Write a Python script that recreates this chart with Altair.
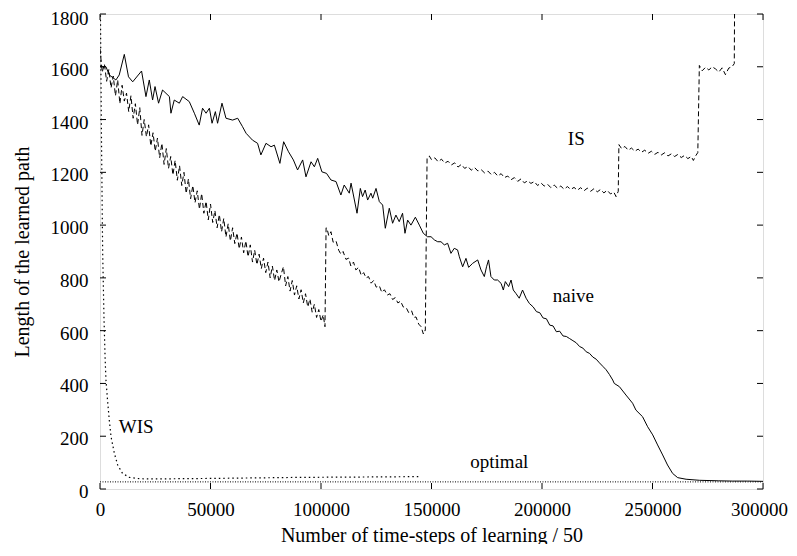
import altair as alt
import pandas as pd

# ---------------- data ----------------
naive_x = [0, 2700, 4200, 7200, 8700, 11000, 12900, 14800, 18800, 20800, 22300, 23800, 24900, 26500, 28300,
           31400, 32100, 33600, 35900, 37400, 40400, 42700, 44900, 46400, 48000, 49500, 50700, 52200, 53200,
           55200, 57000, 60000, 62300, 64500, 66100, 69000, 71300, 72800, 75100, 77400, 78900, 81400, 83100,
           85300, 87500, 89400, 91700, 93200, 95500, 97000, 98500, 100400, 102500, 104500, 106800, 109000,
           110500, 112800, 113600, 116300, 117800, 118800, 120000, 121100, 122600, 123400, 124900, 126400,
           127900, 129100, 130900, 132400, 133900, 135400, 136900, 138000, 139200, 140700, 142700, 144500,
           146300, 148200, 149800, 151300, 152800, 154300, 155800, 157300, 158800, 160300, 161800, 162600,
           164100, 165600, 166800, 168600, 170900, 172400, 173900, 174900, 175800, 176900, 178400, 179900,
           181500, 182500, 183400, 184900, 186000, 187000, 188200, 189700, 191200, 192800, 194300, 196000,
           197500, 199000, 200500, 202000, 203500, 205000, 206500, 208000, 209500, 211000, 212500, 214000,
           215500, 217000, 218500, 220000, 221500, 223000, 224500, 226000, 227500, 229000, 230500, 232000,
           232700, 235000, 238000, 241000, 242500, 245500, 247800, 250100, 252300, 254600, 256800, 259100,
           261400, 265200, 271200, 280000, 286300, 293000, 300000]
naive_y = [1600, 1600, 1569, 1550, 1569, 1647, 1562, 1543, 1584, 1487, 1550, 1474, 1525, 1462, 1512,
           1487, 1424, 1474, 1462, 1487, 1468, 1424, 1379, 1443, 1424, 1443, 1386, 1430, 1386,
           1462, 1405, 1398, 1405, 1373, 1348, 1322, 1310, 1266, 1310, 1297, 1303, 1234, 1316,
           1278, 1247, 1209, 1247, 1183, 1240, 1221, 1253, 1202, 1196, 1171, 1165, 1114,
           1152, 1121, 1159, 1045, 1139, 1108, 1133, 1095, 1121, 1102, 1139, 1089,
           1076, 988, 1064, 1007, 1038, 1013, 1045, 969, 1019, 1000, 1030, 1000,
           969, 956, 956, 944, 937, 937, 925, 931, 893, 912, 906, 880,
           842, 874, 840, 855, 868, 830, 805, 842, 868, 805, 792, 792,
           779, 754, 786, 767, 792, 754, 741, 723, 754, 723, 703, 690,
           672, 668, 648, 645, 621, 618, 596, 598, 580, 578, 570, 562,
           554, 540, 534, 520, 514, 500, 492, 478, 465, 452, 434, 413,
           400, 388, 356, 325, 299, 274, 236, 205, 167, 129, 91, 59,
           43, 37, 33, 31, 30, 30, 29]

is_x = [0, 1000, 2000, 3000, 4000, 5000, 6000, 7000, 8000, 9000, 10000, 11000, 12000, 13000, 14000,
        15000, 16000, 17000, 18000, 19000, 20000, 21000, 22000, 23000, 24000, 25000, 26000, 27000, 28000,
        29000, 30000, 31000, 32000, 33000, 34000, 35000, 36000, 37000, 38000, 39000, 40000, 41000, 42000,
        43000, 44000, 45000, 46000, 47000, 48000, 49000, 50000, 51000, 52000, 53000, 54000, 55000, 56000,
        57000, 58000, 59000, 60000, 61000, 62000, 63000, 64000, 65000, 66000, 67000, 68000, 69000, 70000,
        71000, 72000, 73000, 74000, 75000, 76000, 77000, 78000, 79000, 80000, 81000, 82000, 83000, 84000,
        85000, 86000, 87000, 88000, 89000, 90000, 91000, 92000, 93000, 94000, 95000, 96000, 97000, 98000,
        99000, 100000, 101000, 101800,
        102300, 102700, 103500, 104500, 105500, 106800, 108000, 109000, 110000, 111300, 112500, 113500,
        114700, 115800, 117000, 118200, 119300, 120400, 121500, 122700, 123800, 125000, 126400, 127500,
        128700, 130000, 131200, 132400, 133600, 134800, 136000, 137200, 138500, 139700, 141000, 142000,
        143000, 144200, 145300, 146300, 146600, 147200, 147600, 148000,
        149000, 150000, 151500, 153000, 154500, 156000, 157500, 159000, 160500, 162000, 163500, 165000,
        166500, 168000, 169500, 171000, 172500, 174000, 175500, 177000, 178500, 180000, 181500, 183000,
        184500, 186000, 187500, 189000, 190500, 192000, 193500, 195000, 196500, 198000, 199500, 201000,
        202500, 204000, 205500, 207000, 208500, 210000, 211500, 213000, 214500, 216000, 217500, 219000,
        220500, 222000, 223500, 225000, 226500, 228000, 229500, 231000, 232500, 233500, 234500,
        234800, 236000, 237500, 239000, 240500, 242000, 243500, 245000, 246500, 248000, 249500, 251000,
        252500, 254000, 255500, 257000, 258500, 260000, 261500, 263000, 264500, 266000, 267500, 268500,
        269500, 270500, 271200, 272500, 274000, 275500, 277000, 278500, 280000, 281500, 283000, 284500,
        286000, 287000, 287400]
is_y = [1668, 1580, 1610, 1545, 1590, 1520, 1565, 1490, 1550, 1460, 1530, 1470, 1500, 1430, 1490,
        1405, 1460, 1380, 1445, 1340, 1400, 1335, 1380, 1300, 1350, 1280, 1330, 1255, 1310,
        1230, 1290, 1215, 1260, 1190, 1245, 1170, 1225, 1150, 1200, 1120, 1175, 1100, 1150,
        1085, 1130, 1060, 1120, 1045, 1090, 1020, 1080, 1010, 1055, 990, 1040, 975, 1025,
        955, 1005, 940, 990, 930, 970, 910, 955, 895, 940, 880, 925, 860, 905,
        850, 890, 835, 875, 820, 860, 800, 845, 790, 830, 785, 815, 842, 770,
        805, 750, 790, 735, 770, 720, 755, 705, 740, 690, 720, 670, 700, 650,
        680, 635, 660, 615,
        990, 988, 960, 975, 935, 940, 905, 890, 900, 870, 875, 845,
        860, 830, 840, 810, 820, 800, 805, 780, 790, 765, 770, 745,
        755, 735, 740, 718, 725, 705, 712, 690, 688, 668, 675, 650,
        652, 625, 615, 588, 600, 600, 930, 1255,
        1262, 1248, 1255, 1240, 1250, 1235, 1242, 1228, 1236, 1220, 1230, 1215,
        1222, 1208, 1218, 1205, 1210, 1198, 1205, 1192, 1200, 1186, 1195, 1180,
        1186, 1172, 1180, 1166, 1175, 1160, 1168, 1158, 1165, 1150, 1160, 1148,
        1155, 1142, 1152, 1140, 1148, 1136, 1146, 1135, 1143, 1132, 1142, 1130,
        1140, 1128, 1138, 1126, 1135, 1122, 1132, 1118, 1125, 1108, 1128,
        1305, 1290, 1298, 1284, 1292, 1280, 1288, 1276, 1284, 1272, 1280, 1268,
        1276, 1266, 1274, 1262, 1270, 1260, 1268, 1256, 1264, 1252, 1260, 1245,
        1262, 1275, 1605, 1585, 1598, 1588, 1600, 1592, 1580, 1596, 1570, 1595,
        1600, 1612, 2200]

wis_x = [0, 300, 700, 1200, 1800, 2300, 2700, 3400, 4200, 5000, 6500, 8000, 10200, 13300, 17800,
         25000, 35000, 50000, 70000, 90000, 110000, 130000, 145200]
wis_y = [2000, 1700, 1300, 900, 650, 500, 413, 337, 261, 198, 135, 91, 59, 44, 39,
         38, 39, 40, 42, 44, 45, 46, 47]

optimal_x = [0, 300000]
optimal_y = [27, 27]

label_text = ["IS", "naive", "WIS", "optimal"]
label_x = [215500, 214200, 16400, 180700]
label_y = [1326, 731, 235, 102]

x_ticks = [0, 50000, 100000, 150000, 200000, 250000, 300000]
y_ticks = [0, 200, 400, 600, 800, 1000, 1200, 1400, 1600, 1800]

# ---------------- chart ----------------
FONT = "Liberation Serif"
W, H = 663, 475

xs = alt.Scale(domain=[0, 300000], nice=False, zero=False)
ys = alt.Scale(domain=[0, 1800], nice=False, zero=False)

x_axis = alt.Axis(values=x_ticks, format="d", grid=False, domain=False, ticks=False, tickSize=0,
                  labelPadding=11, labelFont=FONT, labelFontSize=19, labelColor="black",
                  labelOffset={"condition": {"test": "datum.value == 300000", "value": -4}, "value": 0},
                  titleFont=FONT, titleFontSize=20, titleFontWeight="normal", titleColor="black",
                  titlePadding=6, labelFlush=False)
y_axis = alt.Axis(values=y_ticks, format="d", grid=False, domain=False, ticks=False, tickSize=0,
                  labelPadding=12,
                  labelOffset={"condition": {"test": "datum.value == 1800", "value": 4.5}, "value": 2.5},
                  labelFont=FONT, labelFontSize=19, labelColor="black",
                  titleFont=FONT, titleFontSize=20, titleFontWeight="normal", titleColor="black",
                  titlePadding=18, labelFlush=False)

def line_df(xv, yv):
    return pd.DataFrame({"x": xv, "y": yv})

naive = alt.Chart(line_df(naive_x, naive_y)).mark_line(color="black", strokeWidth=1, clip=True).encode(
    x=alt.X("x:Q", scale=xs, axis=x_axis, title="Number of time-steps of learning / 50"),
    y=alt.Y("y:Q", scale=ys, axis=y_axis, title="Length of the learned path"),
)
is_line = alt.Chart(line_df(is_x, is_y)).mark_line(color="black", strokeWidth=1, strokeDash=[5, 3], clip=True).encode(
    x=alt.X("x:Q", scale=xs), y=alt.Y("y:Q", scale=ys))
wis = alt.Chart(line_df(wis_x, wis_y)).mark_line(color="black", strokeWidth=1.2, strokeDash=[1.5, 3], clip=True).encode(
    x=alt.X("x:Q", scale=xs), y=alt.Y("y:Q", scale=ys))
opt = alt.Chart(line_df(optimal_x, optimal_y)).mark_line(color="black", strokeWidth=1, strokeDash=[1, 1.5], clip=True).encode(
    x=alt.X("x:Q", scale=xs), y=alt.Y("y:Q", scale=ys))

labels = alt.Chart(pd.DataFrame({"t": label_text, "x": label_x, "y": label_y})).mark_text(
    font=FONT, fontSize=19, color="black", align="center", baseline="middle").encode(
    x=alt.X("x:Q", scale=xs), y=alt.Y("y:Q", scale=ys), text="t:N")

xt = pd.DataFrame({"v": x_ticks})
yt = pd.DataFrame({"v": y_ticks})
xb = alt.Chart(xt).mark_rule(color="black", strokeWidth=1).encode(
    x=alt.X("v:Q", scale=xs), y=alt.value(H), y2=alt.value(H - 6))
xtop = alt.Chart(xt).mark_rule(color="black", strokeWidth=1).encode(
    x=alt.X("v:Q", scale=xs), y=alt.value(0), y2=alt.value(6))
yl = alt.Chart(yt).mark_rule(color="black", strokeWidth=1).encode(
    y=alt.Y("v:Q", scale=ys), x=alt.value(0), x2=alt.value(6))
yr = alt.Chart(yt).mark_rule(color="black", strokeWidth=1).encode(
    y=alt.Y("v:Q", scale=ys), x=alt.value(W), x2=alt.value(W - 6))

chart = alt.layer(opt, wis, is_line, naive, labels, xb, xtop, yl, yr).properties(
    width=W, height=H, autosize="none",
    padding={"left": 92, "top": 6, "right": 26, "bottom": 55},
).configure_view(stroke="black", strokeWidth=1.5).configure(background="white")

chart.save("out.html", embed_options={"renderer": "svg", "actions": False})
